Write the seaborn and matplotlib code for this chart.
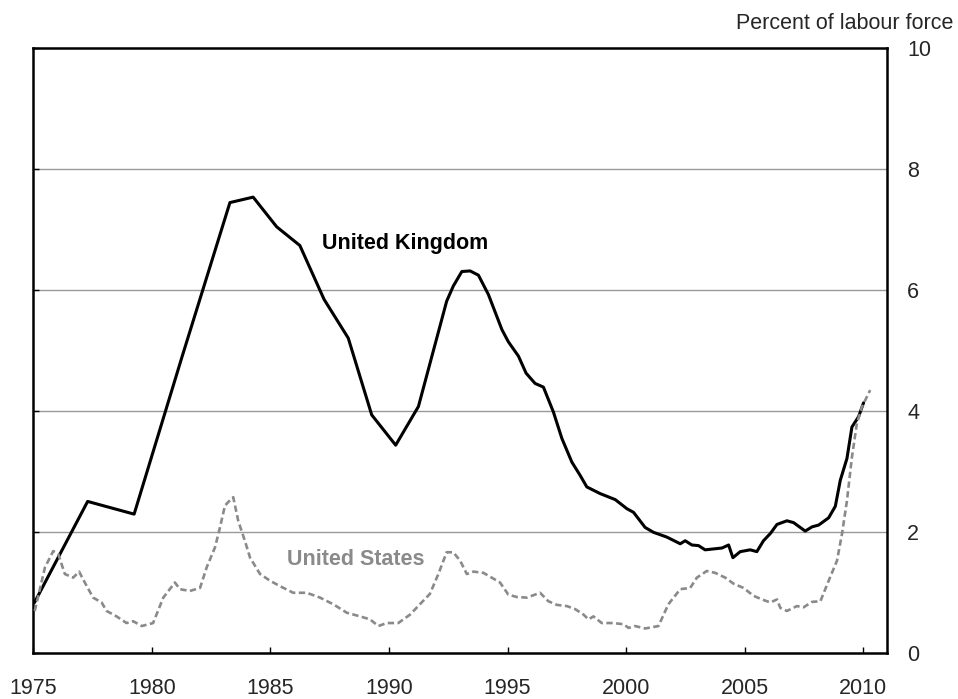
import matplotlib
matplotlib.use("Agg")
import matplotlib.pyplot as plt
import seaborn as sns
import pandas as pd

# United Kingdom, percent of labour force (biennial, annual, then quarterly)
uk_year = [1975.05, 1977.29, 1979.25, 1981.27, 1983.29, 1984.27, 1985.26, 1986.24, 1987.26,
           1988.28, 1989.27, 1990.28, 1991.24, 1992.43, 1992.71, 1993.07, 1993.42, 1993.77,
           1994.19, 1994.76, 1995.03, 1995.46, 1995.78, 1996.16, 1996.51, 1996.93, 1997.29,
           1997.71, 1998.06, 1998.34, 1998.90, 1999.54, 2000.03, 2000.31, 2000.80, 2001.15,
           2001.72, 2002.28, 2002.49, 2002.77, 2003.05, 2003.33, 2004.04, 2004.32, 2004.50,
           2004.81, 2005.23, 2005.51, 2005.79, 2006.08, 2006.36, 2006.78, 2007.06, 2007.55,
           2007.84, 2008.12, 2008.54, 2008.82, 2009.03, 2009.31, 2009.52, 2009.80, 2010.01]
uk_value = [0.84, 2.51, 2.30, 4.90, 7.45, 7.54, 7.05, 6.74, 5.85,
            5.21, 3.94, 3.44, 4.08, 5.82, 6.07, 6.31, 6.32, 6.25,
            5.93, 5.35, 5.15, 4.91, 4.63, 4.46, 4.40, 3.99, 3.55,
            3.16, 2.94, 2.75, 2.64, 2.54, 2.39, 2.33, 2.08, 2.00,
            1.92, 1.81, 1.86, 1.79, 1.78, 1.71, 1.74, 1.79, 1.58,
            1.68, 1.71, 1.68, 1.86, 1.98, 2.13, 2.19, 2.16, 2.02,
            2.09, 2.12, 2.24, 2.43, 2.86, 3.22, 3.74, 3.91, 4.14]

# United States
us_year = [1975.06, 1975.49, 1975.84, 1976.05, 1976.33, 1976.68, 1976.93, 1977.17, 1977.52,
           1977.88, 1978.09, 1978.51, 1978.93, 1979.21, 1979.57, 1980.05, 1980.48, 1980.97,
           1981.18, 1981.60, 1982.03, 1982.31, 1982.66, 1982.87, 1983.08, 1983.22, 1983.43,
           1983.64, 1983.92, 1984.14, 1984.56, 1984.98, 1985.40, 1985.96, 1986.53, 1987.09,
           1987.65, 1988.22, 1988.78, 1989.20, 1989.55, 1989.90, 1990.39, 1990.89, 1991.30,
           1991.72, 1992.08, 1992.43, 1992.71, 1993.00, 1993.28, 1993.56, 1993.98, 1994.33,
           1994.68, 1995.03, 1995.39, 1995.81, 1996.16, 1996.37, 1996.72, 1997.08, 1997.50,
           1997.85, 1998.20, 1998.41, 1998.62, 1998.97, 1999.46, 1999.89, 2000.10, 2000.38,
           2000.80, 2001.36, 2001.78, 2002.28, 2002.70, 2002.98, 2003.40, 2003.75, 2004.18,
           2004.53, 2004.95, 2005.37, 2005.73, 2006.08, 2006.36, 2006.50, 2006.78, 2007.20,
           2007.48, 2007.84, 2008.19, 2008.54, 2008.89, 2009.10, 2009.31, 2009.52, 2009.73,
           2009.94, 2010.29]
us_value = [0.70, 1.42, 1.69, 1.64, 1.31, 1.25, 1.35, 1.17, 0.92,
            0.84, 0.70, 0.61, 0.50, 0.53, 0.45, 0.50, 0.92, 1.17,
            1.06, 1.03, 1.08, 1.42, 1.75, 2.08, 2.44, 2.50, 2.58,
            2.19, 1.86, 1.58, 1.31, 1.20, 1.11, 1.00, 1.00, 0.92,
            0.81, 0.67, 0.61, 0.56, 0.45, 0.50, 0.50, 0.64, 0.81,
            0.98, 1.31, 1.67, 1.67, 1.53, 1.31, 1.35, 1.33, 1.25,
            1.17, 0.97, 0.93, 0.92, 0.97, 1.00, 0.86, 0.80, 0.78,
            0.73, 0.64, 0.56, 0.61, 0.50, 0.50, 0.48, 0.42, 0.45,
            0.41, 0.45, 0.81, 1.06, 1.08, 1.25, 1.36, 1.33, 1.25,
            1.15, 1.08, 0.95, 0.89, 0.84, 0.89, 0.75, 0.70, 0.78,
            0.76, 0.85, 0.86, 1.20, 1.53, 1.97, 2.52, 3.24, 3.80,
            4.07, 4.35]

x_ticks = [1975, 1980, 1985, 1990, 1995, 2000, 2005, 2010]
y_ticks = [0, 2, 4, 6, 8, 10]

sns.set_style("white")
plt.rcParams["font.family"] = ["Liberation Sans", "DejaVu Sans"]
FS = 15.5
GREY = "#8a8a8a"

uk = pd.DataFrame({"year": uk_year, "value": uk_value})
us = pd.DataFrame({"year": us_year, "value": us_value})

fig = plt.figure(figsize=(9.58, 6.99), dpi=100)
ax = fig.add_axes([0.0348, 0.0654, 0.9259 - 0.0348, 0.9309 - 0.0654])

for y in y_ticks[1:-1]:
    ax.axhline(y, color="#999999", lw=1.0, zorder=0)

sns.lineplot(data=uk, x="year", y="value", ax=ax, color="black", lw=2.2,
             estimator=None, sort=False, zorder=3)
sns.lineplot(data=us, x="year", y="value", ax=ax, color=GREY, lw=1.9,
             linestyle=(0, (2.4, 1.3)), estimator=None, sort=False, zorder=4)

ax.set_xlim(1975, 2011)
ax.set_ylim(0, 10)
ax.set_xticks(x_ticks)
ax.set_yticks(y_ticks)
ax.set_xlabel("")
ax.set_ylabel("")

for s in ax.spines.values():
    s.set_visible(True)
    s.set_color("black")
    s.set_linewidth(1.8)

ax.tick_params(axis="x", direction="in", length=4.5, width=1, color="black",
               labelsize=FS, pad=18, top=False, bottom=True)
ax.tick_params(axis="y", direction="in", length=4, width=1, color="black",
               labelsize=FS, pad=14.5, left=True, right=False,
               labelleft=False, labelright=True)

ax.text(1990.66, 6.78, "United Kingdom", ha="center", va="center",
        fontsize=FS, fontweight="bold", color="black")
ax.text(1988.61, 1.55, "United States", ha="center", va="center",
        fontsize=FS, fontweight="bold", color=GREY)

fig.text(0.995, 0.966, "Percent of labour force", ha="right", va="center",
         fontsize=FS)

fig.savefig("out.png", dpi=100)
